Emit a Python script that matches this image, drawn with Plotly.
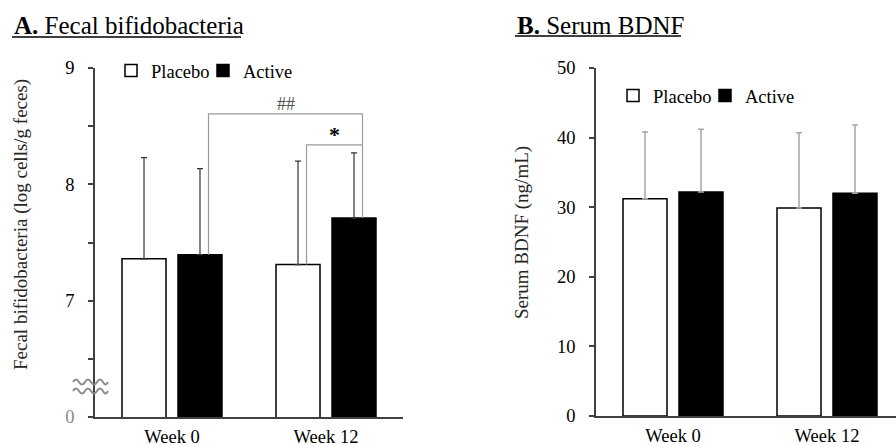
import plotly.graph_objects as go

W, H = 896, 446


def px(x):
    return x / W


def py(y):
    return 1 - y / H


# ---------------- data ----------------
weeks = ["Week 0", "Week 12"]
groups = ["Placebo", "Active"]

bifido_placebo = [7.36, 7.31]
bifido_placebo_sd = [0.87, 0.89]
bifido_active = [7.395, 7.71]
bifido_active_sd = [0.74, 0.56]

bdnf_placebo = [31.2, 29.9]
bdnf_placebo_sd = [9.6, 10.8]
bdnf_active = [32.2, 32.0]
bdnf_active_sd = [9.0, 9.8]

bifido_tickvals = [6, 6.5, 7, 7.5, 8, 8.5, 9]
bifido_ticktext = ["<span style='color:#8a8a8a'>0</span>", "", "7", "", "8", "", "9"]
bdnf_tickvals = [0, 10, 20, 30, 40, 50]

sig_labels = ["##", "*"]
sig_levels = [8.605, 8.34]

# ---------------- style ----------------
FONT = "Liberation Serif, Times New Roman, serif"
AXC = "#404040"
xpos = [0, 1]
BAR_OFF = 28 / 154      # half spacing of grouped bars in axis units
LEG_OFF = 8.5 / 154     # bracket legs sit slightly right of bar centres

fig = go.Figure()

# Panel A bars
fig.add_trace(go.Bar(
    x=xpos, y=bifido_placebo, name=groups[0], legend="legend",
    marker=dict(color="white", line=dict(color="black", width=1.5)),
    error_y=dict(type="data", symmetric=False, array=bifido_placebo_sd,
                 arrayminus=[0, 0], color="#333333", thickness=1.2, width=3),
    xaxis="x", yaxis="y"))
fig.add_trace(go.Bar(
    x=xpos, y=bifido_active, name=groups[1], legend="legend2",
    marker=dict(color="black", line=dict(color="black", width=1.5)),
    error_y=dict(type="data", symmetric=False, array=bifido_active_sd,
                 arrayminus=[0, 0], color="#333333", thickness=1.2, width=3),
    xaxis="x", yaxis="y"))

# Panel B bars
fig.add_trace(go.Bar(
    x=xpos, y=bdnf_placebo, name=groups[0], legend="legend3",
    marker=dict(color="white", line=dict(color="black", width=1.5)),
    error_y=dict(type="data", symmetric=False, array=bdnf_placebo_sd,
                 arrayminus=[0, 0], color="#a6a6a6", thickness=1.5, width=3),
    xaxis="x2", yaxis="y2"))
fig.add_trace(go.Bar(
    x=xpos, y=bdnf_active, name=groups[1], legend="legend4",
    marker=dict(color="black", line=dict(color="black", width=1.5)),
    error_y=dict(type="data", symmetric=False, array=bdnf_active_sd,
                 arrayminus=[0, 0], color="#a6a6a6", thickness=1.5, width=3),
    xaxis="x2", yaxis="y2"))

# significance brackets (panel A)
a0x = xpos[0] + BAR_OFF + LEG_OFF
a1x = xpos[1] + BAR_OFF + LEG_OFF
p1x = xpos[1] - BAR_OFF + LEG_OFF
fig.add_trace(go.Scatter(
    x=[a0x, a0x, a1x, a1x],
    y=[bifido_active[0], sig_levels[0], sig_levels[0], bifido_active[1]],
    mode="lines", line=dict(color="#9a9a9a", width=1.2),
    showlegend=False, hoverinfo="skip", xaxis="x", yaxis="y"))
fig.add_trace(go.Scatter(
    x=[p1x, p1x, a1x],
    y=[bifido_placebo[1], sig_levels[1], sig_levels[1]],
    mode="lines", line=dict(color="#9a9a9a", width=1.2),
    showlegend=False, hoverinfo="skip", xaxis="x", yaxis="y"))

annotations = [
    dict(x=(a0x + a1x) / 2, y=sig_levels[0], xref="x", yref="y", text=sig_labels[0],
         showarrow=False, yanchor="bottom", yshift=-2,
         font=dict(family=FONT, size=18, color="#505050")),
    dict(x=(p1x + a1x) / 2, y=sig_levels[1], xref="x", yref="y", text="<b>" + sig_labels[1] + "</b>",
         showarrow=False, yanchor="bottom", yshift=-4,
         font=dict(family=FONT, size=22, color="black")),
    # panel titles
    dict(x=px(12), y=py(25), xref="paper", yref="paper", xanchor="left", yanchor="middle",
         text="<b>A.</b> Fecal bifidobacteria", showarrow=False,
         font=dict(family=FONT, size=25, color="black")),
    dict(x=px(515), y=py(25), xref="paper", yref="paper", xanchor="left", yanchor="middle",
         text="<b>B.</b> Serum BDNF", showarrow=False,
         font=dict(family=FONT, size=25, color="black")),
    # y-axis titles
    dict(x=px(21), y=py(225), xref="paper", yref="paper", textangle=-90,
         xanchor="center", yanchor="middle",
         text="Fecal bifidobacteria (log cells/g feces)", showarrow=False,
         font=dict(family=FONT, size=19, color="#262626")),
    dict(x=px(522), y=py(233), xref="paper", yref="paper", textangle=-90,
         xanchor="center", yanchor="middle",
         text="Serum BDNF (ng/mL)", showarrow=False,
         font=dict(family=FONT, size=19, color="#262626")),
]


def wave(yc, x0=73, x1=108):
    d = f"M {px(x0)},{py(yc)}"
    x = x0
    sign = -1
    while x < x1:
        xn = min(x + 6, x1)
        cx = (x + xn) / 2
        d += f" Q {px(cx)},{py(yc + sign * 5)} {px(xn)},{py(yc)}"
        sign = -sign
        x = xn
    return d


shapes = [
    dict(type="line", xref="paper", yref="paper", x0=px(12), x1=px(241), y0=py(37), y1=py(37),
         line=dict(color="black", width=1.5)),
    dict(type="line", xref="paper", yref="paper", x0=px(515), x1=px(681), y0=py(36), y1=py(36),
         line=dict(color="black", width=1.5)),
    dict(type="path", xref="paper", yref="paper", path=wave(382), line=dict(color="#8c8c8c", width=2)),
    dict(type="path", xref="paper", yref="paper", path=wave(391), line=dict(color="#8c8c8c", width=2)),
]

common_x = dict(range=[-0.5, 1.5], tickvals=xpos, ticktext=weeks, showline=True, linecolor=AXC,
                linewidth=1.5, ticks="", showgrid=False, zeroline=False, automargin=False,
                tickfont=dict(family=FONT, size=18.5, color="black"), ticklabelstandoff=2)
common_y = dict(showline=True, linecolor=AXC, linewidth=1.5, ticks="outside", ticklen=5,
                tickcolor=AXC, tickwidth=1.5, showgrid=False, zeroline=False, automargin=False,
                tickfont=dict(family=FONT, size=18.5, color="black"), ticklabelstandoff=10)


def leg(text_x, yc):
    return dict(orientation="h", x=px(text_x - 35), y=py(yc), xanchor="left", yanchor="middle",
                font=dict(family=FONT, size=18.5, color="black"), bgcolor="rgba(0,0,0,0)",
                borderwidth=0)


fig.update_layout(
    template="none",
    width=W, height=H, autosize=False,
    margin=dict(l=0, r=0, t=0, b=0, pad=0, autoexpand=False),
    paper_bgcolor="white", plot_bgcolor="white",
    barmode="group", bargap=0.273, bargroupgap=0.214,
    font=dict(family=FONT, size=18, color="black"),
    xaxis=dict(domain=[px(95), px(403)], anchor="y", **common_x),
    yaxis=dict(domain=[py(417), py(68)], anchor="x", range=[6, 9],
               tickvals=bifido_tickvals, ticktext=bifido_ticktext, **common_y),
    xaxis2=dict(domain=[px(596), 1.0], anchor="y2", **{**common_x, "range": [-0.5, -0.5 + 300 / 154]}),
    yaxis2=dict(domain=[py(416), py(68)], anchor="x2", range=[0, 50],
                tickvals=bdnf_tickvals, **common_y),
    legend=leg(146, 71),
    legend2=leg(238, 71),
    legend3=leg(648, 96),
    legend4=leg(740, 96),
    annotations=annotations,
    shapes=shapes,
)

fig.write_html("out.html", config={"displayModeBar": False},
               post_script="document.body.style.margin='0px';document.body.style.padding='0px';")
